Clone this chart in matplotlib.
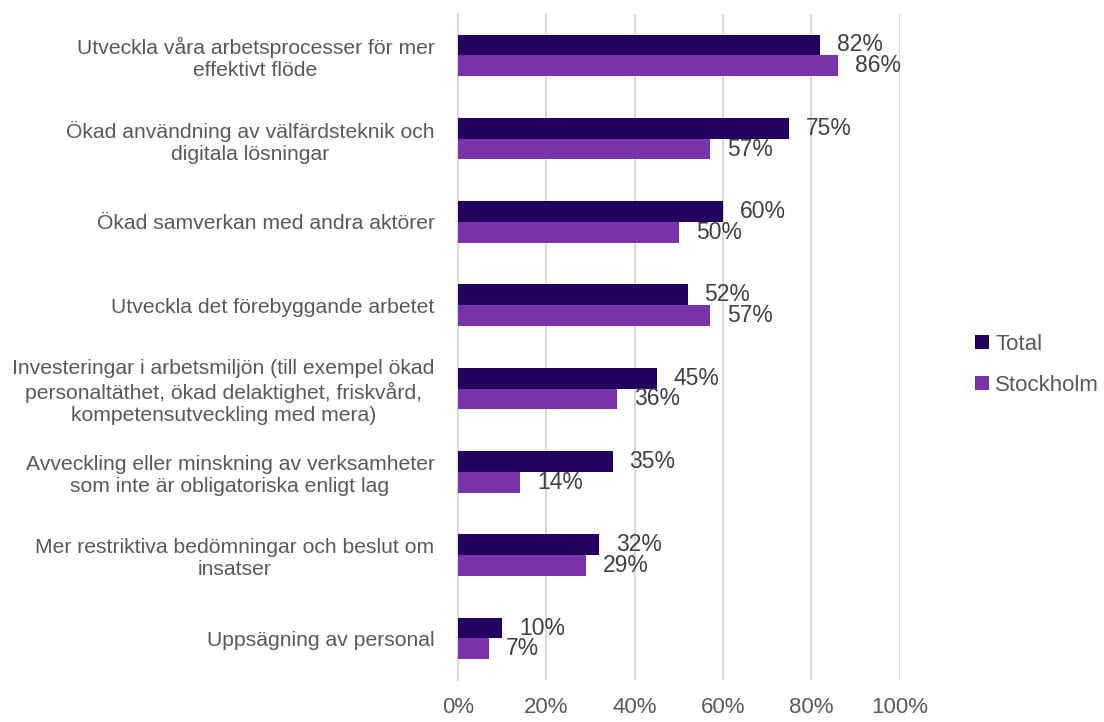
import numpy as np
import matplotlib.pyplot as plt

plt.rcParams['font.family'] = ['Liberation Sans', 'DejaVu Sans']

categories = [
    'Utveckla våra arbetsprocesser för mer\neffektivt flöde',
    'Ökad användning av välfärdsteknik och\ndigitala lösningar',
    'Ökad samverkan med andra aktörer',
    'Utveckla det förebyggande arbetet',
    'Investeringar i arbetsmiljön (till exempel ökad\npersonaltäthet, ökad delaktighet, friskvård,\nkompetensutveckling med mera)',
    'Avveckling eller minskning av verksamheter\nsom inte är obligatoriska enligt lag',
    'Mer restriktiva bedömningar och beslut om\ninsatser',
    'Uppsägning av personal',
]
total = [82, 75, 60, 52, 45, 35, 32, 10]
stockholm = [86, 57, 50, 57, 36, 14, 29, 7]
xticks = [0, 20, 40, 60, 80, 100]

c_total = '#230060'
c_sthlm = '#7832AA'
grey = '#595959'
dark = '#404040'

fig = plt.figure(figsize=(11.04, 7.22), dpi=100)
ax = fig.add_axes([0.415, 0.058, 0.4, 0.923])

y = np.arange(len(categories))
h = 0.25
ax.barh(y - h / 2, total, height=h, color=c_total, label='Total', zorder=3)
ax.barh(y + h / 2, stockholm, height=h, color=c_sthlm, label='Stockholm', zorder=3)

for i in range(len(categories)):
    ax.text(total[i] + 3.8, y[i] - h / 2, f'{total[i]}%', va='center', ha='left',
            fontsize=16.5, color=dark)
    ax.text(stockholm[i] + 3.8, y[i] + h / 2, f'{stockholm[i]}%', va='center', ha='left',
            fontsize=16.5, color=dark)

ax.set_ylim(len(categories) - 0.5, -0.5)
ax.set_xlim(0, 100)
ax.set_xticks(xticks)
ax.set_xticklabels([f'{t}%' for t in xticks], fontsize=16, color=grey)
ax.set_yticks(y)
ax.set_yticklabels(categories, fontsize=15.2, color=grey, linespacing=1.2,
                   multialignment='center')
ax.tick_params(length=0)
ax.tick_params(axis='x', pad=12)
ax.tick_params(axis='y', pad=17)
ax.grid(axis='x', color='#D9D9D9', linewidth=1.5, zorder=0)
for s in ['top', 'right', 'bottom']:
    ax.spines[s].set_visible(False)
ax.spines['left'].set_color('#D9D9D9')
ax.spines['left'].set_linewidth(1.5)

ax.legend(loc='center left', bbox_to_anchor=(1.126, 0.473), frameon=False,
          fontsize=16, handlelength=0.6, handleheight=0.6, handletextpad=0.3,
          labelspacing=0.9, labelcolor=grey)

plt.savefig('out.png')
